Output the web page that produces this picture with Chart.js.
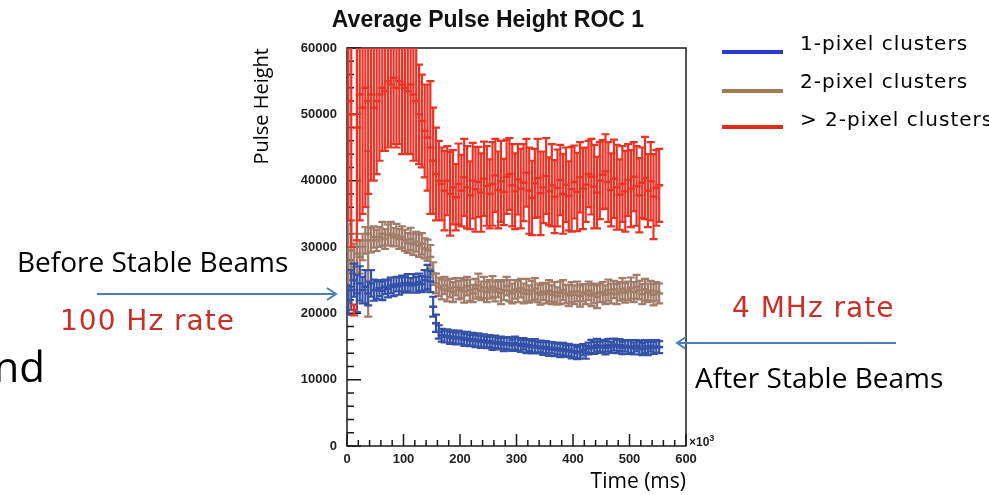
<!DOCTYPE html>
<html lang="en">
<head>
<meta charset="UTF-8">
<title>Average Pulse Height ROC 1</title>
<script src="https://cdn.jsdelivr.net/npm/chart.js"></script>
<style>
  html, body { margin: 0; padding: 0; background: #fff; }
  body { width: 989px; height: 495px; position: relative; overflow: hidden; }
  #wrap { position: absolute; left: 0; top: 0; width: 989px; height: 495px; }
  .txt { position: absolute; white-space: nowrap; line-height: 1; }
  .slide { font-family: "Open Sans", sans-serif; font-size: 28px; color: #000; }
  .rate { font-family: "DejaVu Sans", sans-serif; font-size: 28px; color: #c8302a; letter-spacing: 1px; }
  .leg { font-family: "DejaVu Sans", sans-serif; font-size: 20px; color: #000; letter-spacing: 1px; }
  .legline { position: absolute; left: 722px; width: 61px; height: 4px; }
  svg { position: absolute; left: 0; top: 0; }
</style>
</head>
<body>
<div id="wrap"><canvas id="myChart" width="989" height="495"></canvas></div>

<svg width="989" height="495">
  <g stroke="#4a7ebb" stroke-width="2" fill="none">
    <line x1="97" y1="294" x2="336" y2="294"/>
    <polyline points="327,288 336,294 327,300"/>
    <line x1="677" y1="343" x2="896" y2="343"/>
    <polyline points="686,337 677,343 686,349"/>
  </g>
</svg>

<div class="txt slide" style="left:17px; top:247px;">Before Stable Beams</div>
<div class="txt rate" style="left:60px; top:307px;">100 Hz rate</div>
<div class="txt slide" style="right:944px; top:345px; font-size:42px;">nd</div>
<div class="txt rate" style="left:732px; top:294px;">4 MHz rate</div>
<div class="txt slide" style="left:695px; top:363px;">After Stable Beams</div>
<div class="txt" style="left:689px; top:433px; font: bold 12px 'Liberation Sans', sans-serif; color:#222;">&times;10<sup style="font-size:9px;">3</sup></div>

<div class="legline" style="top:50px; background:#2b3bd0;"></div>
<div class="txt leg" style="left:800px; top:33px;">1-pixel clusters</div>
<div class="legline" style="top:89px; background:#a57c52;"></div>
<div class="txt leg" style="left:800px; top:71px;">2-pixel clusters</div>
<div class="legline" style="top:125px; background:#e02a1c;"></div>
<div class="txt leg" style="left:800px; top:109px;">&gt; 2-pixel clusters</div>

<script>
// bin centres (ms)
const times = [
  2.5, 7.5, 12.5, 17.5, 22.5, 27.5, 32.5, 37.5, 42.5, 47.5,
  52.5, 57.5, 62.5, 67.5, 72.5, 77.5, 82.5, 87.5, 92.5, 97.5,
  102.5, 107.5, 112.5, 117.5, 122.5, 127.5, 132.5, 137.5, 142.5, 147.5,
  152.5, 157.5, 162.5, 167.5, 172.5, 177.5, 182.5, 187.5, 192.5, 197.5,
  202.5, 207.5, 212.5, 217.5, 222.5, 227.5, 232.5, 237.5, 242.5, 247.5,
  252.5, 257.5, 262.5, 267.5, 272.5, 277.5, 282.5, 287.5, 292.5, 297.5,
  302.5, 307.5, 312.5, 317.5, 322.5, 327.5, 332.5, 337.5, 342.5, 347.5,
  352.5, 357.5, 362.5, 367.5, 372.5, 377.5, 382.5, 387.5, 392.5, 397.5,
  402.5, 407.5, 412.5, 417.5, 422.5, 427.5, 432.5, 437.5, 442.5, 447.5,
  452.5, 457.5, 462.5, 467.5, 472.5, 477.5, 482.5, 487.5, 492.5, 497.5,
  502.5, 507.5, 512.5, 517.5, 522.5, 527.5, 532.5, 537.5, 542.5, 547.5, 552.5
];

// 1-pixel clusters
const onePixel = [
  22000, 23500, 25000, 23000, 24500, 23500, 24000, 23000, 24500, 23500,
  23500, 23800, 23400, 24000, 23700, 24200, 24000, 24400, 24100, 24500,
  24300, 24600, 24200, 24500, 24300, 24700, 24400, 25000, 25500, 24800,
  21000, 18500, 17200, 16700, 16500, 16600, 16300, 16500, 16200, 16400,
  16300, 16000, 16200, 15900, 16100, 15800, 16000, 15700, 15900, 15600,
  15800, 15500, 15700, 15400, 15600, 15300, 15500, 15400, 15200, 15500,
  15300, 15100, 15400, 15000, 15200, 14900, 15100, 14800, 15000, 14700,
  14900, 14600, 14800, 14500, 14700, 14400, 14600, 14300, 14500, 14200,
  14300, 14000, 14200, 14500, 14100, 14700, 15000, 14800, 15200, 14900,
  15100, 14800, 15200, 14900, 15300, 15000, 15200, 14800, 15100, 14900,
  15000, 14700, 15100, 14800, 14600, 15000, 14700, 15100, 14800, 15000, 14900
];
const onePixelErr = [
  2200, 3000, 2500, 2800, 2600, 2000, 2500, 1800, 2000, 1600,
  1300, 1200, 1400, 1100, 1300, 1200, 1400, 1100, 1300, 1200,
  1200, 1300, 1100, 1400, 1200, 1300, 1200, 1500, 1800, 1600,
  1500, 1300, 1000, 950, 900, 1000, 900, 950, 900, 1000,
  950, 900, 1000, 850, 950, 900, 1000, 900, 950, 850,
  900, 1000, 950, 850, 900, 1000, 900, 950, 850, 1000,
  950, 900, 850, 1000, 900, 950, 1000, 850, 900, 950,
  900, 1000, 850, 950, 900, 1000, 950, 850, 900, 1000,
  950, 900, 1000, 850, 950, 900, 1000, 900, 950, 850,
  900, 1000, 950, 850, 900, 1000, 900, 950, 850, 1000,
  950, 900, 850, 1000, 900, 950, 1000, 850, 900, 950, 900
];

// 2-pixel clusters
const twoPixel = [
  27500, 29500, 27000, 29000, 28500, 30000, 31000, 32000, 31000, 31500,
  31000, 31500, 32000, 31200, 31800, 32000, 31500, 31800, 31200, 31500,
  31000, 30600, 31200, 30400, 30800, 30200, 30500, 29800, 29500, 28500,
  26000, 24500, 24000, 23600, 24200, 23400, 23800, 23200, 24000, 23500,
  23800, 23300, 24100, 23500, 23000, 23700, 24200, 23400, 23900, 23200,
  23600, 24000, 23300, 23700, 23100, 23500, 24100, 23400, 23000, 23600,
  23300, 23800, 23000, 23500, 22900, 23400, 23700, 23100, 22800, 23300,
  23000, 23400, 22800, 23200, 22600, 23100, 23500, 22900, 22700, 23200,
  22800, 23300, 22600, 23100, 22900, 23400, 22700, 23000, 22500, 23100,
  23200, 22800, 23500, 23000, 23600, 22900, 23300, 23700, 23100, 23400,
  23800, 23200, 24000, 23500, 22900, 23600, 23100, 23400, 22800, 23300, 23000
];
const twoPixelErr = [
  6000, 4500, 3500, 3000, 2500, 2000, 2000, 12500, 1800, 1600,
  1600, 1500, 1800, 1500, 1600, 1800, 1400, 1700, 1500, 1600,
  1600, 1500, 1700, 1600, 1500, 1700, 1600, 1500, 1600, 1800,
  1700, 1500, 1400, 1500, 1300, 1600, 1400, 1500, 1300, 1400,
  1500, 1700, 1400, 1600, 1300, 1500, 1800, 1400, 1600, 1500,
  1400, 1600, 1500, 1300, 1700, 1500, 1400, 1600, 1500, 1400,
  1600, 1400, 1500, 1700, 1300, 1500, 1600, 1400, 1500, 1300,
  1500, 1600, 1400, 1500, 1300, 1700, 1500, 1400, 1600, 1500,
  1400, 1500, 1600, 1300, 1500, 1400, 1600, 1500, 1700, 1400,
  1500, 1400, 1600, 1500, 1300, 1500, 1400, 1600, 1500, 1400,
  1600, 1500, 1800, 1400, 1500, 1600, 1400, 1500, 1600, 1400, 1500
];

// > 2-pixel clusters
const multiPixel = [
  52000, 50000, 20500, 48000, 53000, 51000, 54000, 52000, 53000, 51000,
  52000, 53000, 54000, 53500, 55000, 54500, 55500, 54000, 55000, 54500,
  54000, 53500, 54500, 53000, 52000, 50000, 49000, 47500, 46500, 45000,
  43000, 41000, 40000, 39500, 38500, 40000, 38000, 39000, 37500, 39500,
  38500, 40500, 39000, 37800, 40000, 38700, 39800, 38200, 40300, 39200,
  38000, 39500, 40800, 38600, 39900, 38300, 40600, 41000, 39300, 38400,
  40200, 38800, 39700, 41200, 38500, 37400, 39600, 40400, 38100, 39000,
  40700, 38400, 39300, 37600, 38900, 40100, 38000, 39400, 37700, 38700,
  39800, 38300, 40500, 38800, 39400, 41000, 40600, 39100, 38200, 40000,
  40900, 41400, 39800, 38600, 40300, 39000, 37900, 39500, 38400, 40100,
  38800, 40600, 39200, 37800, 39700, 40400, 38500, 39900, 37600, 38900, 39300
];
const multiPixelErr = [
  18000, 20000, 800, 17000, 19000, 16000, 18000, 14000, 13000, 11000,
  11000, 10000, 9500, 9000, 10000, 9500, 10000, 9000, 9500, 10500,
  10000, 9500, 10500, 10000, 9000, 7500, 7000, 7000, 8000, 10000,
  8000, 7000, 6000, 5500, 6000, 5200, 6300, 5600, 5000, 6100,
  5400, 5800, 6200, 5100, 5700, 6400, 5300, 5900, 5600, 6000,
  5200, 6300, 5500, 5800, 6100, 5000, 5600, 5400, 6200, 5700,
  5300, 6000, 5800, 5100, 6500, 5600, 5200, 5900, 6300, 5400,
  5700, 5100, 6200, 5500, 5800, 5300, 6000, 5600, 5200, 6400,
  5500, 5900, 5300, 6100, 5600, 5000, 5700, 6300, 5400, 5800,
  5200, 5600, 6000, 5500, 5900, 6400, 5300, 5700, 6100, 5400,
  5800, 5200, 6000, 5600, 5300, 6200, 5500, 5900, 6400, 5700, 5500
];

const yTicks = [0, 10000, 20000, 30000, 40000, 50000, 60000];
const xTicks = [0, 100, 200, 300, 400, 500, 600];

function points(vals) {
  return times.map((t, i) => ({ x: t, y: vals[i] }));
}

// vertical error bars with end caps, drawn right after each dataset
const errorBars = {
  id: 'errorBars',
  afterDatasetDraw(chart, args) {
    const ds = chart.data.datasets[args.index];
    if (!ds.errors) return;
    const { ctx, chartArea: a, scales: { x, y } } = chart;
    ctx.save();
    ctx.beginPath();
    ctx.rect(a.left, a.top, a.right - a.left, a.bottom - a.top);
    ctx.clip();
    ctx.strokeStyle = ds.borderColor;
    ctx.lineWidth = 2.2;
    ctx.beginPath();
    ds.data.forEach((p, i) => {
      const px = x.getPixelForValue(p.x);
      const hi = y.getPixelForValue(p.y + ds.errors[i]);
      const lo = y.getPixelForValue(p.y - ds.errors[i]);
      ctx.moveTo(px, hi); ctx.lineTo(px, lo);
      ctx.moveTo(px - 4, hi); ctx.lineTo(px + 4, hi);
      ctx.moveTo(px - 4, lo); ctx.lineTo(px + 4, lo);
    });
    ctx.stroke();
    ctx.restore();
  }
};

// ROOT-like frame with ticks pointing inside
const frame = {
  id: 'frame',
  beforeDatasetsDraw(chart) {
    const { ctx, chartArea: a, scales: { x, y } } = chart;
    ctx.save();
    ctx.strokeStyle = '#1a1a1a';
    ctx.lineWidth = 1.5;
    ctx.strokeRect(a.left, a.top, a.right - a.left, a.bottom - a.top);
    ctx.beginPath();
    for (let v = 0; v <= 60000; v += 2000) {
      const py = y.getPixelForValue(v);
      ctx.moveTo(a.left, py);
      ctx.lineTo(a.left + (v % 10000 ? 7 : 14), py);
    }
    for (let t = 0; t <= 600; t += 20) {
      const px = x.getPixelForValue(t);
      ctx.moveTo(px, a.bottom);
      ctx.lineTo(px, a.bottom - (t % 100 ? 6 : 12));
    }
    ctx.stroke();
    ctx.restore();
  }
};

const tickFont = { family: 'Liberation Sans', weight: 'bold', size: 13 };

new Chart(document.getElementById('myChart'), {
  type: 'scatter',
  data: {
    datasets: [
      {
        label: '1-pixel clusters', data: points(onePixel), errors: onePixelErr,
        borderColor: '#3451a8', backgroundColor: '#3451a8', order: 2
      },
      {
        label: '2-pixel clusters', data: points(twoPixel), errors: twoPixelErr,
        borderColor: '#a37b69', backgroundColor: '#a37b69', order: 3
      },
      {
        label: '> 2-pixel clusters', data: points(multiPixel), errors: multiPixelErr,
        borderColor: '#ec3224', backgroundColor: '#ec3224', order: 1
      }
    ]
  },
  options: {
    responsive: false,
    animation: false,
    layout: { padding: { left: 290, right: 303, top: 7, bottom: 0 } },
    elements: { point: { pointStyle: 'line', radius: 4, borderWidth: 2.5, hoverRadius: 4 } },
    plugins: {
      legend: { display: false },
      tooltip: { enabled: false },
      title: {
        display: true,
        text: 'Average Pulse Height ROC 1',
        color: '#111',
        font: { family: 'Liberation Sans', weight: 'bold', size: 23 },
        padding: { top: 0, bottom: 13.4 }
      }
    },
    scales: {
      x: {
        type: 'linear', min: 0, max: 600,
        afterFit: s => { s.height = 49; },
        afterBuildTicks: s => { s.ticks = xTicks.map(v => ({ value: v })); },
        grid: { display: false, drawTicks: false },
        border: { display: false },
        ticks: { color: '#222', font: tickFont, padding: 6, maxRotation: 0, callback: v => String(v) },
        title: {
          display: true, text: 'Time (ms)', align: 'end', color: '#000',
          font: { family: 'Open Sans', size: 21 }, padding: { top: 0, bottom: 0 }
        }
      },
      y: {
        min: 0, max: 60000,
        afterFit: s => { s.width = 57; },
        afterBuildTicks: s => { s.ticks = yTicks.map(v => ({ value: v })); },
        grid: { display: false, drawTicks: false },
        border: { display: false },
        ticks: { color: '#222', font: tickFont, padding: 10, callback: v => String(v) },
        title: {
          display: true, text: 'Pulse Height', align: 'end', color: '#000',
          font: { family: 'Open Sans', size: 20 }, padding: { top: -40, bottom: 0 }
        }
      }
    }
  },
  plugins: [frame, errorBars]
});
</script>
</body>
</html>
